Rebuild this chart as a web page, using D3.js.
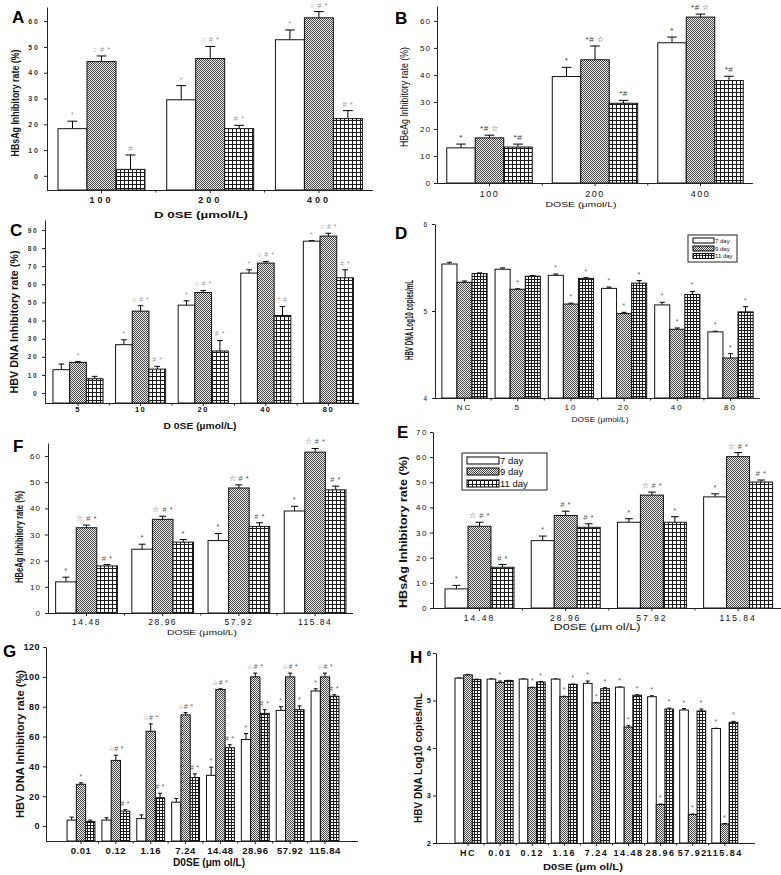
<!DOCTYPE html>
<html><head><meta charset="utf-8">
<script src="https://cdn.jsdelivr.net/npm/d3@7"></script>
<style>body{margin:0;background:#fff} svg{display:block} text{font-family:"Liberation Sans",Arial,sans-serif}</style>
</head><body>
<svg id="c" width="781" height="875"></svg>
<script>
const seriesNames = ["7 day", "9 day", "11 day"];

// Panel A – HBsAg inhibitory rate (%)
const aDoses = ["100", "200", "400"];
const aDay7 = [18.3, 29.5, 52.8], aDay7Sd = [2.9, 5.5, 3.8];
const aDay9 = [44.3, 45.5, 61.3], aDay9Sd = [2.2, 4.7, 2.4];
const aDay11 = [2.5, 18.3, 22.2], aDay11Sd = [5.6, 1.3, 3.1];
const aNotes7 = ["*", "*", "*"], aNotes9 = ["○ # *", "○ # *", "○ # *"], aNotes11 = ["#", "# *", "# *"];
const aTicks = [0, 10, 20, 30, 40, 50, 60];

// Panel B – HBeAg inhibitory rate (%)
const bDoses = ["100", "200", "400"];
const bDay7 = [13.0, 39.4, 51.9], bDay7Sd = [1.4, 3.4, 2.1];
const bDay9 = [16.7, 45.6, 61.4], bDay9Sd = [1.0, 5.1, 1.1];
const bDay11 = [13.3, 29.5, 37.9], bDay11Sd = [1.1, 1.1, 1.6];
const bNotes7 = ["*", "*", "*"], bNotes9 = ["*# ☆", "*# ☆", "*# ☆"], bNotes11 = ["*#", "*#", "*#"];
const bTicks = [0, 10, 20, 30, 40, 50, 60];

// Panel C – HBV DNA inhibitory rate (%)
const cDoses = ["5", "10", "20", "40", "80"];
const cDay7 = [12.9, 26.7, 48.5, 66.2, 83.8], cDay7Sd = [3.1, 2.7, 2.4, 1.8, 0.3];
const cDay9 = [16.9, 45.2, 55.5, 71.7, 86.6], cDay9Sd = [0.4, 3.0, 1.1, 0.9, 1.6];
const cDay11 = [7.9, 13.2, 23.2, 42.8, 63.6], cDay11Sd = [1.3, 1.5, 5.8, 5.0, 4.4];
const cNotes7 = ["", "*", "*", "*", "*"], cNotes9 = ["*", "○ # *", "○ # *", "○ # *", "○ # *"], cNotes11 = ["", "# *", "# *", "* #", "# *"];
const cTicks = [0, 10, 20, 30, 40, 50, 60, 70, 80, 90];

// Panel D – HBV DNA Log10 copies/mL
const dDoses = ["NC", "5", "10", "20", "40", "80"];
const dDay7 = [5.54, 5.48, 5.41, 5.26, 5.07, 4.76], dDay7Sd = [0.02, 0.015, 0.015, 0.015, 0.03, 0.008];
const dDay9 = [5.33, 5.25, 5.08, 4.97, 4.79, 4.46], dDay9Sd = [0.015, 0.005, 0.01, 0.015, 0.015, 0.05];
const dDay11 = [5.43, 5.40, 5.375, 5.32, 5.19, 4.99], dDay11Sd = [0.008, 0.008, 0.008, 0.03, 0.035, 0.06];
const dNotes7 = ["", "", "*", "*", "*", "*"], dNotes9 = ["", "*", "*", "*", "*", "*"], dNotes11 = ["", "", "*", "*", "*", "*"];
const dTicks = [4, 5, 6];

// Panel F – HBeAg inhibitory rate (%)
const fDoses = ["14.48", "28.96", "57.92", "115.84"];
const fDay7 = [11.9, 24.4, 27.7, 39.0], fDay7Sd = [1.8, 1.9, 2.7, 1.8];
const fDay9 = [32.6, 35.8, 47.8, 61.5], fDay9Sd = [1.0, 1.2, 1.2, 1.4];
const fDay11 = [18.0, 27.1, 33.1, 47.1], fDay11Sd = [0.5, 1.0, 1.4, 1.4];
const fNotes7 = ["*", "*", "*", "*"], fNotes9 = ["☆ # *", "☆ # *", "☆ # *", "☆ # *"], fNotes11 = ["# *", "*", "# *", "# *"];
const fTicks = [0, 10, 20, 30, 40, 50, 60];

// Panel E – HBsAg inhibitory rate (%)
const eDoses = ["14.48", "28.96", "57.92", "115.84"];
const eDay7 = [7.6, 26.8, 34.1, 44.2], eDay7Sd = [1.4, 1.8, 1.4, 1.2];
const eDay9 = [32.5, 36.8, 44.9, 60.2], eDay9Sd = [1.6, 1.7, 1.2, 1.6];
const eDay11 = [16.2, 32.1, 34.1, 50.1], eDay11Sd = [1.1, 1.4, 2.2, 0.8];
const eNotes7 = ["*", "*", "*", "*"], eNotes9 = ["☆ # *", "# *", "☆ # *", "☆ # *"], eNotes11 = ["# *", "# *", "*", "# *"];
const eTicks = [0, 10, 20, 30, 40, 50, 60, 70];

// Panel G – HBV DNA inhibitory rate (%)
const gDoses = ["0.01", "0.12", "1.16", "7.24", "14.48", "28.96", "57.92", "115.84"];
const gDay7 = [4, 4, 5, 16, 34, 58, 77.5, 90.5], gDay7Sd = [2, 1.5, 2.5, 2.5, 5.5, 4, 2.5, 1.5];
const gDay9 = [28, 44, 63.5, 74.5, 91.5, 100, 100, 100], gDay9Sd = [1, 3.5, 5, 1.5, 0.5, 2.5, 2.5, 2.5];
const gDay11 = [3, 10, 19, 32.5, 52.5, 75.5, 78, 87], gDay11Sd = [1, 1, 3, 2.5, 2, 2.5, 2.5, 1];
const gNotes7 = ["", "", "", "", "*", "*", "*", "*"];
const gNotes9 = ["*", "☆# *", "☆# *", "☆# *", "☆# *", "☆# *", "☆# *", "☆# *"];
const gNotes11 = ["", "# *", "# *", "# *", "# *", "# *", "*", "# *"];
const gTicks = [0, 20, 40, 60, 80, 100, 120];

// Panel H – HBV DNA Log10 copies/mL
const hDoses = ["HC", "0.01", "0.12", "1.16", "7.24", "14.48", "28.96", "57.92", "115.84"];
const hDay7 = [5.47, 5.45, 5.45, 5.45, 5.36, 5.28, 5.08, 4.80, 4.41], hDay7Sd = [0.005, 0.005, 0.005, 0.005, 0.05, 0.005, 0.02, 0.03, 0.005];
const hDay9 = [5.54, 5.38, 5.27, 5.08, 4.95, 4.44, 2.81, 2.60, 2.40], hDay9Sd = [0.01, 0.03, 0.01, 0.01, 0.005, 0.03, 0.01, 0.01, 0.01];
const hDay11 = [5.44, 5.42, 5.39, 5.34, 5.25, 5.11, 4.82, 4.78, 4.54], hDay11Sd = [0.01, 0.005, 0.01, 0.005, 0.02, 0.01, 0.02, 0.04, 0.02];
const hNotes7 = ["", "", "", "", "*", "*", "*", "*", "*"];
const hNotes9 = ["", "*", "*", "*", "*", "*", "*", "*", "*"];
const hNotes11 = ["", "", "*", "*", "*", "*", "*", "*", "*"];
const hTicks = [2, 3, 4, 5, 6];

// ---------------------------------------------------------------
const svg = d3.select("#c");
const defs = svg.append("defs");
const ph = defs.append("pattern").attr("id", "hatch").attr("patternUnits", "userSpaceOnUse").attr("width", 2).attr("height", 2);
ph.append("rect").attr("width", 2).attr("height", 2).attr("fill", "#eeeeee");
ph.append("rect").attr("width", 1).attr("height", 1).attr("fill", "#474747");
ph.append("rect").attr("x", 1).attr("y", 1).attr("width", 1).attr("height", 1).attr("fill", "#474747");
function gridPattern(id, s) {
  const p = defs.append("pattern").attr("id", id).attr("patternUnits", "userSpaceOnUse").attr("width", s).attr("height", s);
  p.append("rect").attr("width", s).attr("height", s).attr("fill", "#fff");
  p.append("path").attr("d", `M0,0.5H${s}M0.5,0V${s}`).attr("stroke", "#1a1a1a").attr("stroke-width", 1);
}
gridPattern("grid4", 4);
gridPattern("grid3", 3);

function styleText(sel, f) {
  sel.attr("font-size", f.size).attr("font-weight", f.bold ? "bold" : "normal")
     .attr("letter-spacing", f.ls || 0).attr("fill", f.fill || "#111");
}
function addText(t, x, y, o) {
  const el = svg.append("text").attr("x", x).attr("y", y).text(t)
    .attr("font-size", o.size).attr("font-weight", o.bold ? "bold" : "normal").attr("fill", o.fill || "#111");
  if (o.anchor) el.attr("text-anchor", o.anchor);
  if (o.central) el.attr("dominant-baseline", "central");
  if (o.len) el.attr("textLength", o.len).attr("lengthAdjust", "spacingAndGlyphs");
  if (o.rotate) el.attr("transform", `rotate(-90,${x},${y})`);
  return el;
}

function drawPanel(p) {
  const g = svg.append("g");
  const n = p.groups.length;
  const x = d3.scaleBand().domain(p.groups)
    .range([p.c0 - p.step / 2, p.c0 + (n - 0.5) * p.step])
    .paddingInner(p.pad).paddingOuter(p.pad / 2);
  const xs = d3.scaleBand().domain([0, 1, 2]).range([0, x.bandwidth()]);
  const y = d3.scaleLinear().domain(p.yDomain).range([p.yBottom, p.yTop]);
  const fills = ["#fff", "url(#hatch)", `url(#${p.grid})`];
  const rows = [];
  p.values.forEach((vals, si) => vals.forEach((v, gi) =>
    rows.push({ si, gi, v, sd: p.sds[si][gi], note: p.notes[si][gi] })));
  const bw = xs.bandwidth();
  const bx = d => x(p.groups[d.gi]) + xs(d.si);
  const cx = d => bx(d) + bw / 2;

  g.selectAll("line.err").data(rows).join("line").attr("class", "err")
    .attr("x1", cx).attr("x2", cx).attr("y1", d => y(d.v)).attr("y2", d => y(d.v + d.sd))
    .attr("stroke", "#000").attr("stroke-width", 1);
  g.selectAll("line.cap").data(rows).join("line").attr("class", "cap")
    .attr("x1", d => cx(d) - Math.max(2, bw * 0.17)).attr("x2", d => cx(d) + Math.max(2, bw * 0.17))
    .attr("y1", d => y(d.v + d.sd)).attr("y2", d => y(d.v + d.sd))
    .attr("stroke", "#000").attr("stroke-width", 1);
  g.selectAll("rect.bar").data(rows).join("rect").attr("class", "bar")
    .attr("x", bx).attr("y", d => y(d.v)).attr("width", bw)
    .attr("height", d => p.yBottom - y(d.v))
    .attr("fill", d => fills[d.si]).attr("stroke", "#111").attr("stroke-width", 1);
  g.selectAll("text.note").data(rows.filter(d => d.note)).join("text").attr("class", "note")
    .attr("x", cx).attr("y", d => y(d.v + d.sd) - 4).attr("text-anchor", "middle")
    .attr("font-size", p.noteSize).attr("letter-spacing", 0.5).attr("fill", p.noteColor).text(d => d.note);

  const ya = g.append("g").attr("transform", `translate(${p.ax0},0)`)
    .call(d3.axisLeft(y).tickValues(p.yTicks).tickSize(3).tickSizeOuter(0).tickPadding(p.yPad).tickFormat(d3.format("d")));
  ya.select(".domain").attr("stroke", "#222");
  ya.selectAll(".tick line").attr("stroke", "#222");
  styleText(ya.selectAll("text").attr("font-family", null), p.yFont);
  const xa = g.append("g").attr("transform", `translate(0,${p.yBottom})`)
    .call(d3.axisBottom(x).tickSize(3).tickSizeOuter(0).tickPadding(p.xPad));
  xa.select(".domain").attr("d", `M${p.ax0},0.5H${p.ax1}`).attr("stroke", "#222");
  xa.selectAll(".tick line").attr("stroke", "#222");
  styleText(xa.selectAll("text").attr("font-family", null), p.xFont);
  const minor = d3.range(1, n).map(i => x(p.groups[i]) - x.step() * x.paddingInner() / 2);
  xa.selectAll("line.minor").data(minor).join("line").attr("class", "minor")
    .attr("x1", d => d).attr("x2", d => d).attr("y1", 0.5).attr("y2", 2.5).attr("stroke", "#222");

  addText(p.letter, p.lx, p.ly, { size: 17, bold: true, fill: "#000" });
  addText(p.ylab.t, p.ylab.x, p.ylab.y, { size: p.ylab.size, bold: p.ylab.bold, anchor: "middle", central: true, len: p.ylab.len, rotate: true });
  addText(p.xlab.t, p.xlab.x, p.xlab.y, { size: p.xlab.size, bold: p.xlab.bold, anchor: "middle", central: true, len: p.xlab.len });
}

function legend(x0, y0, w, h, sw, sh, rowY, labelSize, gridId) {
  const g = svg.append("g");
  g.append("rect").attr("x", x0).attr("y", y0).attr("width", w).attr("height", h)
    .attr("fill", "#fff").attr("stroke", "#222").attr("stroke-width", 1);
  const fills = ["#fff", "url(#hatch)", `url(#${gridId})`];
  g.selectAll("rect.sw").data(seriesNames).join("rect").attr("class", "sw")
    .attr("x", x0 + 5).attr("y", (d, i) => rowY[i]).attr("width", sw).attr("height", sh)
    .attr("fill", (d, i) => fills[i]).attr("stroke", "#000").attr("stroke-width", 1);
  g.selectAll("text").data(seriesNames).join("text")
    .attr("x", x0 + 6 + sw).attr("y", (d, i) => rowY[i] + sh / 2).attr("dominant-baseline", "central")
    .attr("font-size", labelSize).attr("fill", "#111").text(d => d);
}

drawPanel({ letter: "A", lx: 12, ly: 23, groups: aDoses,
  values: [aDay7, aDay9, aDay11], sds: [aDay7Sd, aDay9Sd, aDay11Sd], notes: [aNotes7, aNotes9, aNotes11],
  ax0: 47, ax1: 373, yBottom: 190, yTop: 7, yDomain: [-5.5, 65.5], yTicks: aTicks,
  c0: 101.5, step: 108.7, pad: 0.2, grid: "grid4", noteSize: 7.5, noteColor: "#999",
  yPad: 4, xPad: 4, yFont: { size: 7, bold: true, ls: 2, fill: "#333" }, xFont: { size: 9, bold: true, ls: 3 },
  ylab: { t: "HBsAg Inhibitory rate (%)", x: 15, y: 103, len: 107, size: 10.5, bold: true },
  xlab: { t: "D 0SE (µmol/L)", x: 201, y: 215, len: 94, size: 9, bold: true } });

drawPanel({ letter: "B", lx: 395, ly: 24, groups: bDoses,
  values: [bDay7, bDay9, bDay11], sds: [bDay7Sd, bDay9Sd, bDay11Sd], notes: [bNotes7, bNotes9, bNotes11],
  ax0: 437, ax1: 753, yBottom: 183, yTop: 6, yDomain: [0, 65.5], yTicks: bTicks,
  c0: 489.5, step: 105.5, pad: 0.19, grid: "grid4", noteSize: 8, noteColor: "#333",
  yPad: 3, xPad: 5, yFont: { size: 8, ls: 1 }, xFont: { size: 9, ls: 1.5 },
  ylab: { t: "HBeAg Inhibitory rate (%)", x: 404, y: 97, len: 100, size: 10, bold: false },
  xlab: { t: "DOSE (μmol/L)", x: 581, y: 204, len: 71, size: 8, bold: false } });

drawPanel({ letter: "C", lx: 10, ly: 236, groups: cDoses,
  values: [cDay7, cDay9, cDay11], sds: [cDay7Sd, cDay9Sd, cDay11Sd], notes: [cNotes7, cNotes9, cNotes11],
  ax0: 45, ax1: 359, yBottom: 403, yTop: 220, yDomain: [-5.5, 95.5], yTicks: cTicks,
  c0: 78, step: 62.6, pad: 0.2, grid: "grid4", noteSize: 7, noteColor: "#999",
  yPad: 4, xPad: 1, yFont: { size: 6.5, bold: true, ls: 1.5, fill: "#333" }, xFont: { size: 7.5, bold: true, ls: 1.5 },
  ylab: { t: "HBV DNA Inhibitory rate (%)", x: 14, y: 322, len: 143, size: 11, bold: true },
  xlab: { t: "D 0SE (µmol/L)", x: 200, y: 426, len: 73, size: 9, bold: true } });

drawPanel({ letter: "D", lx: 395, ly: 239, groups: dDoses,
  values: [dDay7, dDay9, dDay11], sds: [dDay7Sd, dDay9Sd, dDay11Sd], notes: [dNotes7, dNotes9, dNotes11],
  ax0: 435, ax1: 760, yBottom: 398, yTop: 224, yDomain: [4, 6], yTicks: dTicks,
  c0: 464.5, step: 53.2, pad: 0.15, grid: "grid3", noteSize: 6.5, noteColor: "#555",
  yPad: 5, xPad: 3.5, yFont: { size: 6.5 }, xFont: { size: 8, ls: 2 },
  ylab: { t: "HBV DNA Log10 copies/mL", x: 409, y: 320, len: 80, size: 10, bold: true },
  xlab: { t: "DOSE (μmol/L)", x: 600, y: 419, len: 57, size: 7.5, bold: false } });
legend(688, 235, 49, 27, 21, 5, [238, 246, 253.5], 6, "grid3");

drawPanel({ letter: "F", lx: 13, ly: 452, groups: fDoses,
  values: [fDay7, fDay9, fDay11], sds: [fDay7Sd, fDay9Sd, fDay11Sd], notes: [fNotes7, fNotes9, fNotes11],
  ax0: 48, ax1: 353, yBottom: 613, yTop: 443, yDomain: [0, 65], yTicks: fTicks,
  c0: 86.5, step: 76.2, pad: 0.19, grid: "grid4", noteSize: 7.5, noteColor: "#555",
  yPad: 4, xPad: 3, yFont: { size: 8, ls: 1 }, xFont: { size: 8.5, ls: 1.5 },
  ylab: { t: "HBeAg Inhibitory rate (%)", x: 19, y: 537, len: 92, size: 10, bold: true },
  xlab: { t: "DOSE (μmol/L)", x: 202, y: 632, len: 70, size: 8, bold: false } });

drawPanel({ letter: "E", lx: 397, ly: 438, groups: eDoses,
  values: [eDay7, eDay9, eDay11], sds: [eDay7Sd, eDay9Sd, eDay11Sd], notes: [eNotes7, eNotes9, eNotes11],
  ax0: 433, ax1: 781, yBottom: 608, yTop: 432, yDomain: [0, 70], yTicks: eTicks,
  c0: 479.5, step: 86.2, pad: 0.2, grid: "grid4", noteSize: 7.5, noteColor: "#555",
  yPad: 2, xPad: 4, yFont: { size: 8, ls: 1.5 }, xFont: { size: 8.5, ls: 2 },
  ylab: { t: "HBsAg Inhibitory rate (%)", x: 403, y: 532, len: 152, size: 11, bold: true },
  xlab: { t: "D0SE (μm ol/L)", x: 597, y: 627, len: 87, size: 8.5, bold: false } });
legend(462, 453, 85, 37, 32, 7, [457, 468, 480], 9.5, "grid4");

drawPanel({ letter: "G", lx: 3, ly: 657, groups: gDoses,
  values: [gDay7, gDay9, gDay11], sds: [gDay7Sd, gDay9Sd, gDay11Sd], notes: [gNotes7, gNotes9, gNotes11],
  ax0: 46, ax1: 358, yBottom: 841, yTop: 647, yDomain: [-10, 120], yTicks: gTicks,
  c0: 81, step: 34.86, pad: 0.2, grid: "grid3", noteSize: 6.5, noteColor: "#555",
  yPad: 3, xPad: 3, yFont: { size: 9, bold: true, ls: 0.5 }, xFont: { size: 9.5, bold: true, ls: 0.5 },
  ylab: { t: "HBV DNA Inhibitory rate (%)", x: 20, y: 744, len: 148, size: 11, bold: true },
  xlab: { t: "D0SE (μm ol/L)", x: 209, y: 862, len: 72, size: 10, bold: true } });

drawPanel({ letter: "H", lx: 410, ly: 663, groups: hDoses,
  values: [hDay7, hDay9, hDay11], sds: [hDay7Sd, hDay9Sd, hDay11Sd], notes: [hNotes7, hNotes9, hNotes11],
  ax0: 436, ax1: 755, yBottom: 843, yTop: 653, yDomain: [2, 6], yTicks: hTicks,
  c0: 468, step: 32.1, pad: 0.19, grid: "grid3", noteSize: 6.5, noteColor: "#555",
  yPad: 2, xPad: 3.5, yFont: { size: 7.5, bold: true }, xFont: { size: 9, bold: true, ls: 1.5 },
  ylab: { t: "HBV DNA Log10 copies/mL", x: 418, y: 758, len: 130, size: 11, bold: true },
  xlab: { t: "D0SE (μm ol/L)", x: 583, y: 866, len: 80, size: 9.5, bold: true } });
</script>
</body></html>
